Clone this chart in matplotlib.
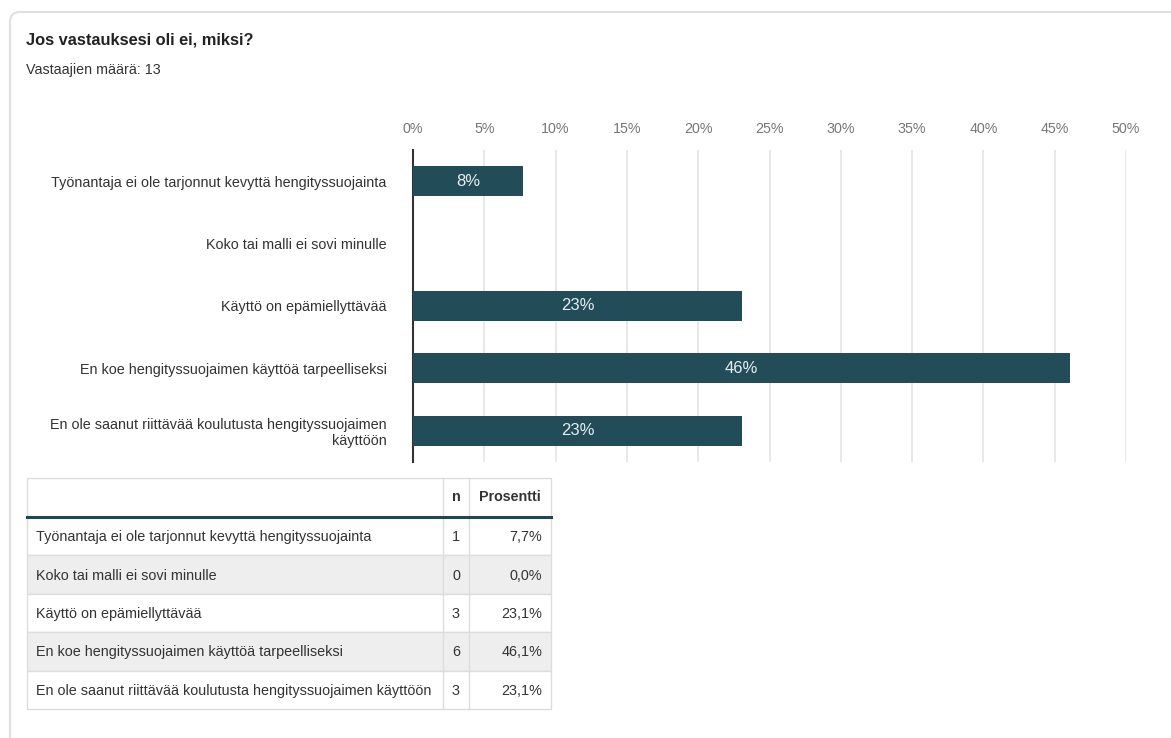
import matplotlib.pyplot as plt
from matplotlib.patches import FancyBboxPatch, Rectangle

plt.rcParams['font.family'] = ['Liberation Sans', 'DejaVu Sans']

# --------------------------------------------------
# data
# --------------------------------------------------
title = "Jos vastauksesi oli ei, miksi?"
respondents = 13
categories = [
    "Työnantaja ei ole tarjonnut kevyttä hengityssuojainta",
    "Koko tai malli ei sovi minulle",
    "Käyttö on epämiellyttävää",
    "En koe hengityssuojaimen käyttöä tarpeelliseksi",
    "En ole saanut riittävää koulutusta hengityssuojaimen käyttöön",
]
# wrapped labels for the chart axis
axis_labels = [
    "Työnantaja ei ole tarjonnut kevyttä hengityssuojainta",
    "Koko tai malli ei sovi minulle",
    "Käyttö on epämiellyttävää",
    "En koe hengityssuojaimen käyttöä tarpeelliseksi",
    "En ole saanut riittävää koulutusta hengityssuojaimen\nkäyttöön",
]
counts = [1, 0, 3, 6, 3]
percents = [7.7, 0.0, 23.1, 46.1, 23.1]
x_ticks = [0, 5, 10, 15, 20, 25, 30, 35, 40, 45, 50]

bar_color = "#234c59"
text_color = "#333333"
W, H = 1171, 738

fig = plt.figure(figsize=(W / 100, H / 100), dpi=100)
fig.patch.set_facecolor("white")

# background layer in pixel coordinates (card, title, table)
bg = fig.add_axes([0, 0, 1, 1])
bg.set_xlim(0, W)
bg.set_ylim(H, 0)
bg.axis("off")

card = FancyBboxPatch((10, 12), 1300, 900, boxstyle="round,pad=0,rounding_size=10",
                      facecolor="white", edgecolor="#e0e0e0", linewidth=1.5)
bg.add_patch(card)

bg.text(26, 40, title, fontsize=11.8, fontweight="bold", color="#222222", va="center")
bg.text(26, 70, f"Vastaajien määrä: {respondents}", fontsize=10.3, color=text_color, va="center")

# --------------------------------------------------
# bar chart
# --------------------------------------------------
ax = fig.add_axes([413 / W, 1 - 462 / H, 713 / W, 312 / H])
y = list(range(len(categories)))
ax.barh(y, percents, height=0.48, color=bar_color, zorder=3)
for yi, p in zip(y, percents):
    if p > 0:
        ax.text(p / 2, yi, f"{round(p):.0f}%", ha="center", va="center",
                color="#e6eef0", fontsize=12, zorder=4)

ax.set_xlim(0, 50)
ax.set_ylim(len(categories) - 0.5, -0.5)
ax.set_xticks(x_ticks)
ax.set_xticklabels([f"{t}%" for t in x_ticks])
ax.xaxis.tick_top()
ax.tick_params(axis="x", length=0, pad=10, labelsize=10.3, labelcolor="#777777")
ax.set_yticks(y)
ax.set_yticklabels(axis_labels)
ax.tick_params(axis="y", length=0, pad=19, labelsize=10.4, labelcolor=text_color)
ax.grid(axis="x", color="#e4e4e4", linewidth=1.2, zorder=0)
for s in ["top", "right", "bottom"]:
    ax.spines[s].set_visible(False)
ax.spines["left"].set_color(text_color)
ax.spines["left"].set_linewidth(1.5)
ax.spines["left"].set_zorder(2)
ax.set_facecolor("none")

# --------------------------------------------------
# table
# --------------------------------------------------
col_x = [27, 443, 469, 551]
head_top, head_bot = 478, 517
row_h = 38.4
border = "#dddddd"

bg.add_patch(Rectangle((col_x[0], head_top), col_x[3] - col_x[0], head_bot - head_top,
                       facecolor="white", edgecolor=border, linewidth=1))
for cx in col_x[1:3]:
    bg.plot([cx, cx], [head_top, head_bot], color=border, linewidth=1)
bg.text((col_x[1] + col_x[2]) / 2, 497, "n", fontsize=10.3, fontweight="bold",
        color=text_color, ha="center", va="center")
bg.text((col_x[2] + col_x[3]) / 2, 497, "Prosentti", fontsize=10.3, fontweight="bold",
        color=text_color, ha="center", va="center")

for i, (cat, n, p) in enumerate(zip(categories, counts, percents)):
    top = head_bot + i * row_h
    face = "#eeeeee" if i % 2 == 1 else "white"
    bg.add_patch(Rectangle((col_x[0], top), col_x[3] - col_x[0], row_h,
                           facecolor=face, edgecolor=border, linewidth=1))
    for cx in col_x[1:3]:
        bg.plot([cx, cx], [top, top + row_h], color=border, linewidth=1)
    cy = top + row_h / 2 + 1
    bg.text(col_x[0] + 9, cy, cat, fontsize=10.4, color=text_color, va="center")
    bg.text((col_x[1] + col_x[2]) / 2, cy, str(n), fontsize=10.4, color=text_color,
            ha="center", va="center")
    bg.text(col_x[3] - 9, cy, f"{p:.1f}%".replace(".", ","), fontsize=10.4,
            color=text_color, ha="right", va="center")

# thick line under the header
bg.plot([col_x[0], col_x[3]], [head_bot, head_bot], color="#1f4653", linewidth=2.2)

fig.savefig("out.png", dpi=100)
